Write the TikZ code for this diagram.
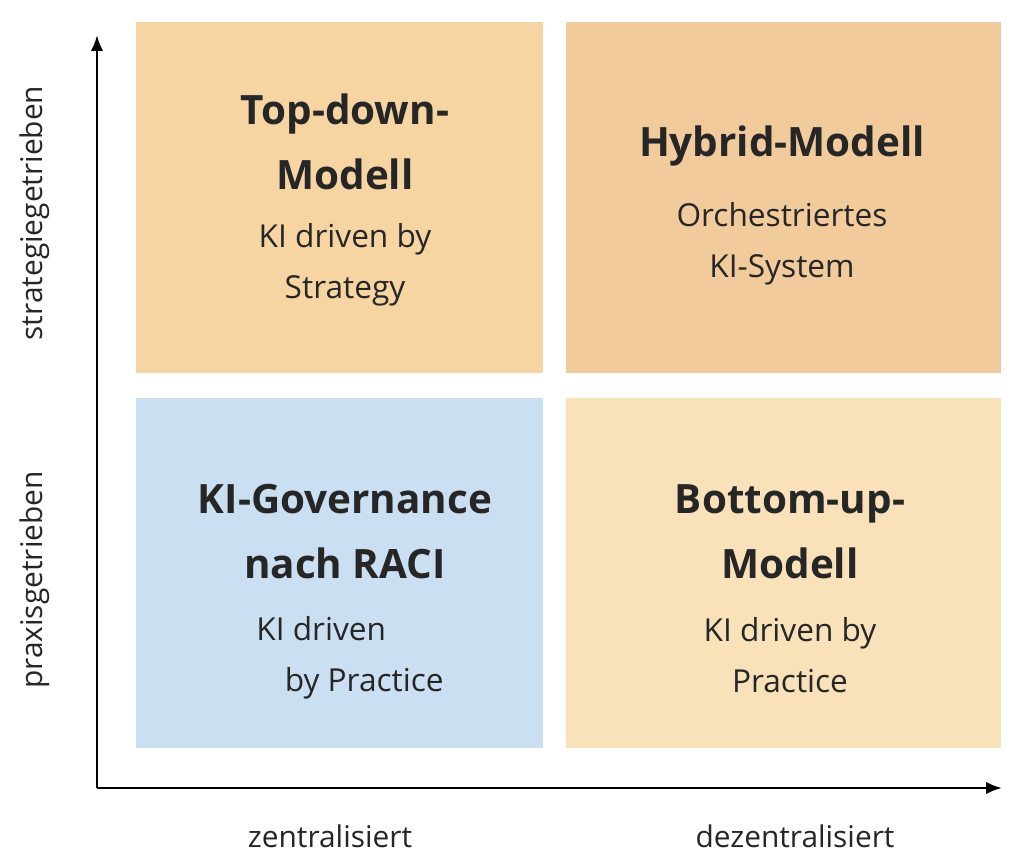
\documentclass[tikz,border=0pt]{standalone}
\usepackage{fontspec}
\setmainfont{Open Sans}
\usetikzlibrary{positioning,arrows.meta}
\definecolor{orangeA}{HTML}{F6D5A3}
\definecolor{orangeB}{HTML}{F1CB9C}
\definecolor{blueA}{HTML}{CADFF1}
\definecolor{sandA}{HTML}{F9E2B9}
\tikzset{
  ttl/.style={font=\fontsize{23}{37}\selectfont\bfseries, align=center, text=black!85},
  sub/.style={font=\fontsize{18}{29}\selectfont, align=center, text=black!85},
  axlab/.style={font=\fontsize{17}{20}\selectfont, text=black!85}
}
\begin{document}
\begin{tikzpicture}[x=0.02cm, y=-0.02cm]
\useasboundingbox (0,0) rectangle (1024,864);
% quadrants
\fill[orangeA] (136,22) rectangle (543,373);
\fill[orangeB] (566,22) rectangle (1001,373);
\fill[blueA] (136,398) rectangle (543,748);
\fill[sandA] (566,398) rectangle (1001,748);
% axes
\coordinate (O) at (97,788);
\coordinate (top) at (97,35);
\coordinate (right) at (1002,788);
\draw[line width=1.4pt, -{Latex[length=9pt,width=7pt]}] (O) -- (top);
\draw[line width=1.4pt, -{Latex[length=9pt,width=7pt]}] (O) -- (right);
% texts
\node[ttl] (t1) at (345,142) {Top-down-\\Modell};
\node[sub] (s1) at (345,265) {KI driven by\\Strategy};
\node[ttl] (t2) at (782,146) {Hybrid-Modell};
\node[sub] (s2) at (782,244) {Orchestriertes\\KI-System};
\node[ttl] (t3) at (345,532) {KI-Governance\\nach RACI};
\node[sub, align=left] (s3) at (350,658) {KI driven\\\hspace*{0.9em}by Practice};
\node[ttl] (t4) at (790,532) {Bottom-up-\\Modell};
\node[sub] (s4) at (790,655) {KI driven by\\Practice};
\node[axlab] (x1) at (330,836) {zentralisiert};
\node[axlab] (x2) at (795,836) {dezentralisiert};
\node[axlab, rotate=90] (y1) at (35,213) {strategiegetrieben};
\node[axlab, rotate=90] (y2) at (35,580) {praxisgetrieben};
\end{tikzpicture}
\end{document}
